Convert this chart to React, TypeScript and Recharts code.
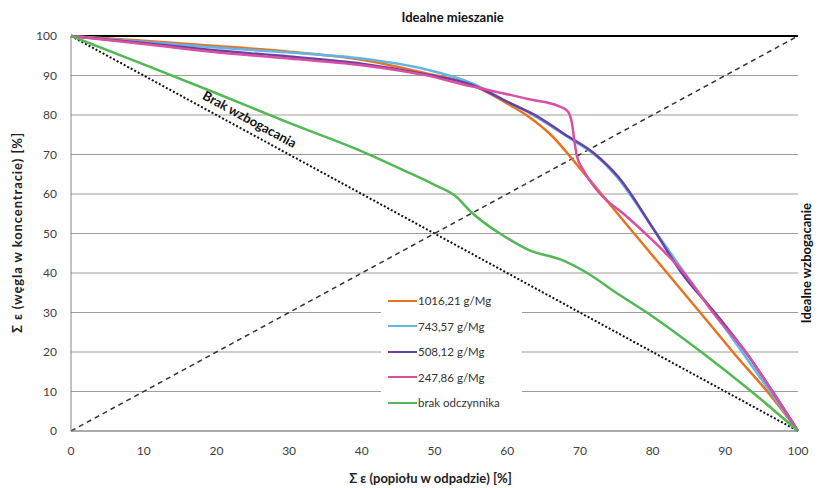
import React from 'react';
import { LineChart, Line, XAxis, YAxis, CartesianGrid, ReferenceLine, ReferenceDot, Legend } from 'recharts';

const seriesNames = ['1016,21 g/Mg', '743,57 g/Mg', '508,12 g/Mg', '247,86 g/Mg', 'brak odczynnika'];
const seriesColors = ['#E8731E', '#62B5E5', '#6B3FA0', '#D94FA3', '#52B855'];

const orangeX = [0, 10, 19, 30, 40, 48.7, 55.2, 60.4, 63, 66, 70, 77, 82, 87, 91.5, 96, 100];
const orangeY = [100, 98.8, 97.6, 96, 94, 90.6, 87.6, 82.5, 79.5, 75, 66.5, 51, 40, 29, 19, 9.5, 0];

const blueX = [0, 10, 19, 30, 40, 48.7, 55.2, 60.4, 63, 67, 70, 72, 75, 80, 85, 90, 95, 100];
const blueY = [100, 98.5, 97.2, 95.8, 94.3, 91.6, 88, 83, 80.6, 76, 72.5, 70, 64.5, 51.5, 38.5, 26, 13, 0];

const purpleX = [0, 10, 19, 30, 40, 48.7, 55.2, 60.4, 64.3, 68, 71.9, 75.3, 80.4, 83.8, 89, 93, 96.5, 100];
const purpleY = [100, 98.2, 96.5, 94.8, 93, 90.3, 87.6, 83, 79.5, 75, 70.4, 64.3, 50.3, 40.5, 29, 19.5, 10, 0];

const magentaX = [0, 10, 19, 30, 40, 48.7, 55.2, 60.4, 63, 67, 68.3, 68.9, 69.2, 69.6, 70.5, 72.8, 76, 79, 84.3, 88.5, 93, 96.5, 100];
const magentaY = [100, 98, 96.1, 94.3, 92.6, 90.1, 87.2, 85.1, 84, 82.3, 81, 78, 74, 69.5, 66, 60, 55, 50, 40, 29.5, 19.5, 10, 0];

const greenX = [0, 10, 20, 30, 40, 46, 50, 53, 55, 57, 59, 63, 67.5, 71, 75, 80, 86.7, 93.6, 100];
const greenY = [100, 92.8, 85.5, 78, 70.8, 65.8, 62.3, 59.3, 55.5, 52.5, 50, 45.8, 43.3, 40, 35, 29, 20, 10, 0];

const xTicks = [0, 10, 20, 30, 40, 50, 60, 70, 80, 90, 100];
const yTicks = [0, 10, 20, 30, 40, 50, 60, 70, 80, 90, 100];

const titleText = 'Idealne mieszanie';
const noEnrichText = 'Brak wzbogacania';
const idealEnrichText = 'Idealne wzbogacanie';
const xTitle = 'Σ ε (popiołu w odpadzie) [%]';
const yTitle = 'Σ ε (węgla w koncentracie) [%]';

const toPoints = (xs: number[], ys: number[]) => xs.map((x, i) => ({ x, y: ys[i] }));

const seriesData = [
  toPoints(orangeX, orangeY),
  toPoints(blueX, blueY),
  toPoints(purpleX, purpleY),
  toPoints(magentaX, magentaY),
  toPoints(greenX, greenY),
];

const FONT = "Lato, 'Open Sans', sans-serif";

const renderLegend = (props: any) => {
  const payload = [...(props.payload || [])].sort(
    (a: any, b: any) => seriesNames.indexOf(a.value) - seriesNames.indexOf(b.value)
  );
  return (
    <div style={{ paddingTop: 4, paddingLeft: 7 }}>
      {payload.map((e: any) => (
        <div key={e.value} style={{ display: 'flex', alignItems: 'center', height: 25.5 }}>
          <span style={{ display: 'inline-block', width: 29, height: 0, borderTop: `2.5px solid ${e.color}` }} />
          <span style={{ fontSize: 11.5, color: '#333', fontFamily: FONT, marginLeft: 1 }}>{e.value}</span>
        </div>
      ))}
    </div>
  );
};

export default function App() {
  return (
    <div style={{ position: 'absolute', left: 0, top: 0, width: 839, height: 488, background: '#fff' }}>
      <LineChart width={839} height={488} margin={{ top: 36, right: 41, left: 0, bottom: 0 }}>
        <CartesianGrid vertical={false} stroke="#a39a9a" strokeWidth={1} />
        <XAxis
          dataKey="x"
          type="number"
          domain={[0, 100]}
          ticks={xTicks}
          height={57}
          tickLine={false}
          tickSize={6}
          tickMargin={9}
          axisLine={{ stroke: '#8a8282', strokeWidth: 1 }}
          tick={{ fill: '#404040', fontSize: 12, fontFamily: FONT }}
          label={(p: any) => (
            <text
              x={p.viewBox.x + p.viewBox.width / 2 - 4}
              y={p.viewBox.y + 47}
              textAnchor="middle"
              dominantBaseline="central"
              fontFamily={FONT}
              fontWeight="bold"
              fontSize={13}
              fill="#222"
            >
              {xTitle}
            </text>
          )}
        />
        <YAxis
          type="number"
          domain={[0, 100]}
          ticks={yTicks}
          width={71}
          tickLine={false}
          tickSize={6}
          tickMargin={8}
          axisLine={{ stroke: '#8a8282', strokeWidth: 1 }}
          tick={{ fill: '#404040', fontSize: 12, fontFamily: FONT }}
          label={() => (
            <text
              x={17}
              y={233}
              transform="rotate(-90 17 233)"
              textAnchor="middle"
              dominantBaseline="central"
              fontFamily={FONT}
              fontWeight="bold"
              fontSize={13}
              fill="#222"
              textLength={200}
              lengthAdjust="spacing"
            >
              {yTitle}
            </text>
          )}
        />
        <ReferenceLine y={100} stroke="#000" strokeWidth={2} />
        <ReferenceLine
          segment={[{ x: 0, y: 0 }, { x: 100, y: 100 }]}
          stroke="#333"
          strokeWidth={1.5}
          strokeDasharray="5 4"
        />
        <ReferenceLine
          segment={[{ x: 0, y: 100 }, { x: 100, y: 0 }]}
          stroke="#111"
          strokeWidth={2}
          strokeDasharray="2 2"
        />
        {seriesData.map((d, i) => (
          <Line
            key={seriesNames[i]}
            data={d}
            dataKey="y"
            name={seriesNames[i]}
            type="monotone"
            stroke={seriesColors[i]}
            strokeWidth={2.5}
            dot={false}
            activeDot={false}
            isAnimationActive={false}
          />
        ))}
        <ReferenceDot
          x={52.5}
          y={100}
          r={0}
          shape={(p: any) => (
            <text
              x={p.cx}
              y={p.cy - 19}
              textAnchor="middle"
              dominantBaseline="central"
              fontFamily={FONT}
              fontWeight="bold"
              fontSize={13}
              fill="#111"
            >
              {titleText}
            </text>
          )}
        />
        <ReferenceDot
          x={24.6}
          y={79}
          r={0}
          shape={(p: any) => (
            <text
              x={p.cx}
              y={p.cy}
              transform={`rotate(28.5 ${p.cx} ${p.cy})`}
              textAnchor="middle"
              dominantBaseline="central"
              fontFamily={FONT}
              fontWeight="bold"
              fontSize={13}
              fill="#111"
            >
              {noEnrichText}
            </text>
          )}
        />
        <ReferenceDot
          x={100}
          y={42.5}
          r={0}
          shape={(p: any) => (
            <text
              x={p.cx + 8}
              y={p.cy}
              transform={`rotate(-90 ${p.cx + 8} ${p.cy})`}
              textAnchor="middle"
              dominantBaseline="central"
              fontFamily={FONT}
              fontWeight="bold"
              fontSize={13}
              fill="#111"
            >
              {idealEnrichText}
            </text>
          )}
        />
        <Legend
          layout="vertical"
          align="center"
          verticalAlign="middle"
          content={renderLegend}
          wrapperStyle={{ left: 381, top: 284, width: 141, height: 134, backgroundColor: '#fff' }}
        />
      </LineChart>
    </div>
  );
}
